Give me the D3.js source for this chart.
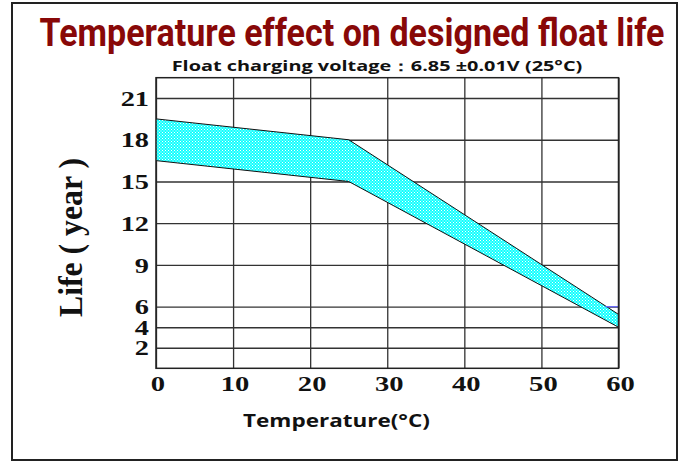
<!DOCTYPE html>
<html>
<head>
<meta charset="utf-8">
<script src="https://cdn.jsdelivr.net/npm/d3@7"></script>
<style>
  body { margin: 0; background: #fff; }
</style>
</head>
<body>
<svg id="chart" width="683" height="461"></svg>
<script>
// data
const xTicks = [0, 10, 20, 30, 40, 50, 60];
const yTicks = [2, 4, 6, 9, 12, 15, 18, 21];
const bandTemps = [0, 25, 60];
const bandUpper = [19.5, 18, 5.25];
const bandLower = [16.5, 15, 4];
const markTemps = [58.3, 60];   // short blue stroke on the 6-year line
const markLife = 6;

const svg = d3.select('#chart');

// plot box
const plot = { left: 156, right: 618.5, top: 77.7, bottom: 368.3 };

const x = d3.scaleLinear().domain([0, 60]).range([plot.left, plot.right]);
// the y axis is not uniform: 0-6 is squeezed, 6-21 is wider
const y = d3.scaleLinear().domain([0, 6, 22.46]).range([plot.bottom, 306.7, plot.top]);

// outer frame
svg.append('rect')
  .attr('x', 12).attr('y', 3).attr('width', 665).attr('height', 457)
  .attr('fill', 'none').attr('stroke', '#222').attr('stroke-width', 2);

// dotted cyan fill
const defs = svg.append('defs');
const pat = defs.append('pattern')
  .attr('id', 'dots').attr('patternUnits', 'userSpaceOnUse')
  .attr('width', 3).attr('height', 3);
pat.append('rect').attr('width', 3).attr('height', 3).attr('fill', '#10ffff');
pat.append('rect').attr('x', 0).attr('y', 0).attr('width', 1).attr('height', 1).attr('fill', '#fff');
pat.append('rect').attr('x', 1.5).attr('y', 1.5).attr('width', 1).attr('height', 1).attr('fill', '#fff');

// gridlines
svg.append('g')
  .attr('class', 'y-grid')
  .attr('transform', `translate(${plot.left},0)`)
  .call(d3.axisLeft(y).tickValues(yTicks).tickFormat('').tickSize(-(plot.right - plot.left)))
  .call(g => g.select('.domain').remove())
  .call(g => g.selectAll('line').attr('stroke', '#333').attr('stroke-width', 1.3));

svg.append('g')
  .attr('class', 'x-grid')
  .attr('transform', `translate(0,${plot.bottom})`)
  .call(d3.axisBottom(x).tickValues(xTicks).tickFormat('').tickSize(-(plot.bottom - plot.top)))
  .call(g => g.select('.domain').remove())
  .call(g => g.selectAll('line').attr('stroke', '#333').attr('stroke-width', 1.3));

// band
const area = d3.area()
  .x((d, i) => x(bandTemps[i]))
  .y0((d, i) => y(bandLower[i]))
  .y1((d, i) => y(bandUpper[i]));
svg.append('path')
  .datum(bandTemps)
  .attr('d', area)
  .attr('fill', 'url(#dots)');

const edge = d3.line().x(d => x(d[0])).y(d => y(d[1]));
svg.append('path')
  .datum(d3.zip(bandTemps, bandUpper))
  .attr('d', edge).attr('fill', 'none').attr('stroke', '#111').attr('stroke-width', 1);
svg.append('path')
  .datum(d3.zip(bandTemps, bandLower))
  .attr('d', edge).attr('fill', 'none').attr('stroke', '#111').attr('stroke-width', 1);

svg.append('path')
  .datum(markTemps.map(t => [t, markLife]))
  .attr('d', edge).attr('fill', 'none').attr('stroke', '#6a6aff').attr('stroke-width', 1.3);

// plot frame
svg.append('rect')
  .attr('x', plot.left).attr('y', plot.top)
  .attr('width', plot.right - plot.left).attr('height', plot.bottom - plot.top)
  .attr('fill', 'none').attr('stroke', '#222').attr('stroke-width', 1.5);

// tick labels
const sx = 1.35;
svg.append('g')
  .attr('class', 'y-axis')
  .attr('transform', `translate(${plot.left},0)`)
  .call(d3.axisLeft(y).tickValues(yTicks).tickSize(0).tickPadding(0))
  .call(g => g.select('.domain').remove())
  .call(g => g.selectAll('text')
    .attr('x', -7 / sx)
    .attr('dy', '0.34em')
    .attr('transform', `scale(${sx},1)`)
    .attr('font-family', '"Liberation Serif", "Times New Roman", serif')
    .attr('font-weight', 'bold')
    .attr('font-size', 21)
    .attr('fill', '#111'));

svg.append('g')
  .attr('class', 'x-axis')
  .attr('transform', `translate(0,${plot.bottom})`)
  .call(d3.axisBottom(x).tickValues(xTicks).tickSize(0).tickPadding(0))
  .call(g => g.select('.domain').remove())
  .call(g => g.selectAll('.tick text')
    .attr('y', 23)
    .attr('dy', 0)
    .attr('font-family', '"Liberation Serif", "Times New Roman", serif')
    .attr('font-weight', 'bold')
    .attr('font-size', 22)
    .attr('fill', '#111'))
  .call(g => g.selectAll('.tick')
    .attr('transform', d => `translate(${x(d) + 2},0) scale(1.3,1)`));

// squeeze a text to a given width around its centre
function fitWidth(sel, cx, w) {
  const len = sel.node().getComputedTextLength();
  sel.attr('x', 0).attr('transform', `translate(${cx},${sel.attr('y')}) scale(${w / len},1)`).attr('y', 0);
}

// titles
svg.append('text')
  .attr('y', 46)
  .attr('text-anchor', 'middle')
  .attr('font-family', 'Roboto, "Open Sans", sans-serif')
  .attr('font-weight', 'bold')
  .attr('font-size', 39)
  .attr('fill', '#880808')
  .text('Temperature effect on designed float life')
  .call(fitWidth, 352, 625);

svg.append('text')
  .attr('y', 71)
  .attr('text-anchor', 'middle')
  .attr('font-family', '"Open Sans", sans-serif')
  .attr('font-weight', 'bold')
  .attr('font-size', 14)
  .attr('fill', '#111')
  .text('Float charging voltage：6.85 ±0.01V (25°C)')
  .call(fitWidth, 377, 411);

svg.append('text')
  .attr('y', 426.5)
  .attr('text-anchor', 'middle')
  .attr('font-family', '"Open Sans", sans-serif')
  .attr('font-weight', 'bold')
  .attr('font-size', 17)
  .attr('fill', '#111')
  .text('Temperature(°C)')
  .call(fitWidth, 336.5, 187);

svg.append('text')
  .attr('transform', 'translate(82,237.5) rotate(-90)')
  .attr('text-anchor', 'middle')
  .attr('font-family', '"Liberation Serif", "Times New Roman", serif')
  .attr('font-weight', 'bold')
  .attr('font-size', 34)
  .attr('fill', '#111')
  .attr('textLength', 159)
  .attr('lengthAdjust', 'spacingAndGlyphs')
  .text('Life ( year )');
</script>
</body>
</html>
